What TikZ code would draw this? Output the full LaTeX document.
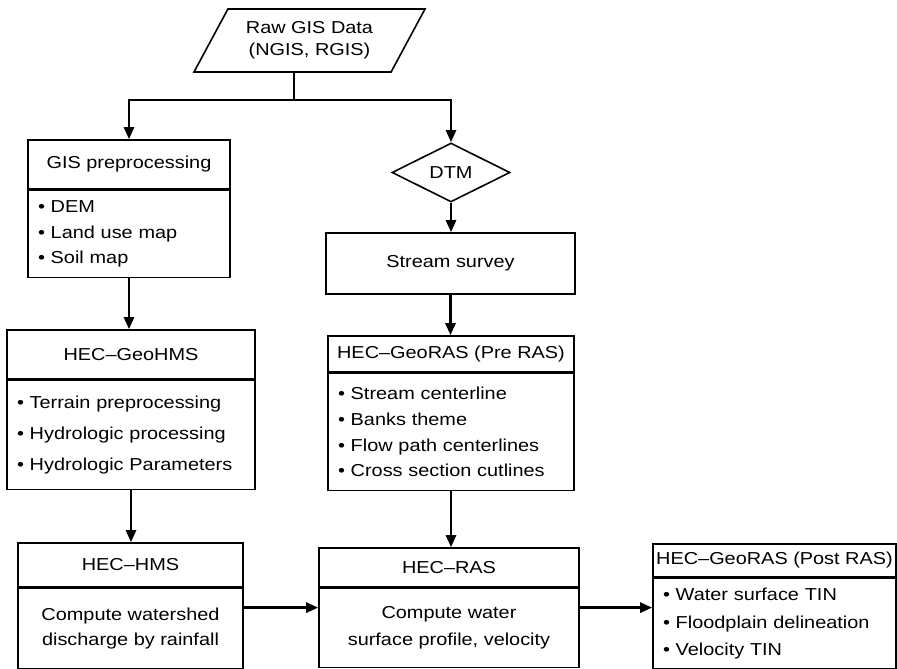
\documentclass[tikz,border=0pt]{standalone}
\usepackage{fontspec}
\setmainfont[FakeStretch=1.15]{Liberation Sans}
\usetikzlibrary{arrows.meta,shapes.geometric,positioning}

\tikzset{
    box/.style={draw, line width=1.6pt, inner sep=0pt, align=center, font=\fontsize{17.3pt}{22pt}\selectfont},
    list/.style={box, align=left, inner xsep=10pt},
    arr/.style={line width=2.6pt, -{Triangle[length=12pt,width=10pt]}},
}

\begin{document}
\begin{tikzpicture}[x=1pt, y=-1pt]
                \useasboundingbox (0,0) rectangle (897,669);
                \node[box, trapezium, trapezium left angle=48, trapezium right angle=132, trapezium stretches body, minimum width=231pt, minimum height=63pt] (raw) at (309.5,40.5) {Raw GIS Data\\(NGIS, RGIS)};
                \coordinate (fork) at (294,100);
                % left column
                \node[box, minimum width=202pt, minimum height=49pt] (gisT) at (129,164.5) {GIS preprocessing};
                \node[list, text width=182pt, minimum height=87pt, below=0pt of gisT, font=\fontsize{17.3pt}{25.5pt}\selectfont] (gisB) {• DEM\\• Land use map\\• Soil map};
                \node[box, minimum width=248pt, minimum height=49pt] (geohmsT) at (131,354.5) {HEC–GeoHMS};
                \node[list, text width=228pt, minimum height=109pt, below=0pt of geohmsT, font=\fontsize{17.3pt}{31pt}\selectfont] (geohmsB) {• Terrain preprocessing\\• Hydrologic processing\\• Hydrologic Parameters};
                \node[box, minimum width=225pt, minimum height=44pt] (hmsT) at (130.5,565) {HEC–HMS};
                \node[box, minimum width=225pt, minimum height=80pt, below=0pt of hmsT, font=\fontsize{17.3pt}{25pt}\selectfont] (hmsB) {Compute watershed\\discharge by rainfall};
                % right column
                \node[box, diamond, aspect=2, minimum width=118pt, minimum height=59pt] (dtm) at (451,172.5) {DTM};
                \node[box, minimum width=249pt, minimum height=61pt] (survey) at (450.5,263.5) {Stream survey};
                \node[box, minimum width=246pt, minimum height=36pt] (preT) at (451,354) {HEC–GeoRAS (Pre RAS)};
                \node[list, text width=226pt, minimum height=117pt, below=0pt of preT, font=\fontsize{17.3pt}{25.7pt}\selectfont] (preB) {• Stream centerline\\• Banks theme\\• Flow path centerlines\\• Cross section cutlines};
                \node[box, minimum width=260pt, minimum height=39pt] (rasT) at (449,567.5) {HEC–RAS};
                \node[box, minimum width=260pt, minimum height=79pt, below=0pt of rasT, font=\fontsize{17.3pt}{27pt}\selectfont] (rasB) {Compute water\\surface profile, velocity};
                \node[box, minimum width=243pt, minimum height=33pt] (postT) at (774.5,560.5) {HEC–GeoRAS (Post RAS)};
                \node[list, text width=223pt, minimum height=90pt, below=0pt of postT, font=\fontsize{17.3pt}{27.5pt}\selectfont] (postB) {• Water surface TIN\\• Floodplain delineation\\• Velocity TIN};
                % connectors
                \draw[line width=1.6pt] (raw.south -| fork) -- (fork);
                \draw[arr] (fork) -| (gisT.north);
                \draw[arr] (fork) -| (dtm.north);
                \draw[arr] (gisB.south) -- (gisB.south |- geohmsT.north);
                \draw[arr] (geohmsB.south) -- (geohmsB.south |- hmsT.north);
                \draw[arr] (dtm.south) -- (dtm.south |- survey.north);
                \draw[arr] (survey.south) -- (survey.south |- preT.north);
                \draw[arr] (preB.south) -- (preB.south |- rasT.north);
                \draw[arr] ([yshift=21pt]hmsB.east) -- ([yshift=21pt]hmsB.east -| rasB.west);
                \draw[arr] ([yshift=20.5pt]rasB.east) -- ([yshift=20.5pt]rasB.east -| postB.west);
            \end{tikzpicture}
\end{document}
